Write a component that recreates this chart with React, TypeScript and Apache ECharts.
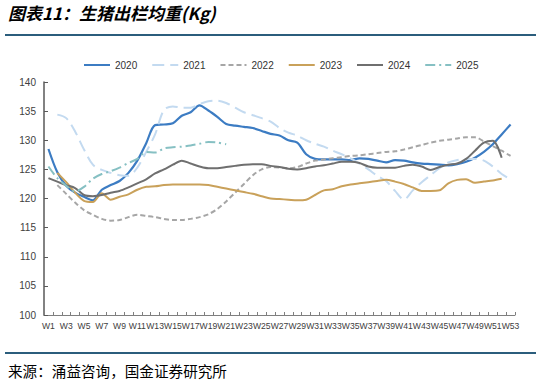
import React, { useEffect, useRef } from "react";
import * as echarts from "echarts";

const weeks = [
  "W1", "W2", "W3", "W4", "W5", "W6", "W7", "W8", "W9", "W10",
  "W11", "W12", "W13", "W14", "W15", "W16", "W17", "W18", "W19", "W20",
  "W21", "W22", "W23", "W24", "W25", "W26", "W27", "W28", "W29", "W30",
  "W31", "W32", "W33", "W34", "W35", "W36", "W37", "W38", "W39", "W40",
  "W41", "W42", "W43", "W44", "W45", "W46", "W47", "W48", "W49", "W50",
  "W51", "W52", "W53",
];

const s2020 = [
  128.5, 124.5, 122.2, 121.0, 120.3, 119.7, 121.5, 122.3, 123.0, 124.4,
  126.5, 129.5, 132.6, 132.7, 132.9, 134.2, 134.8, 136.0, 135.1, 134.0,
  132.8, 132.5, 132.3, 132.1, 131.6, 131.1, 130.8, 130.0, 129.6, 127.6,
  126.8, 126.7, 126.7, 126.7, 126.6, 126.9, 126.8, 126.5, 126.2, 126.6,
  126.5, 126.2, 126.0, 125.9, 125.8, 125.7, 125.9, 126.3, 127.0, 128.0,
  129.3, 131.0, 132.7,
];

const s2021 = [
  null, 134.4, 133.8, 131.5, 128.4, 125.8, 124.9, 124.4, 124.0, 123.9,
  125.3, 128.0, 131.0, 135.2, 135.8, 135.6, 135.6, 136.2, 136.7, 136.8,
  136.4, 135.6, 134.8, 134.3, 133.8, 133.2, 132.1, 131.3, 130.8, 130.0,
  129.4, 128.9, 128.2, 127.6, 126.9, 126.0, 125.0, 123.9, 123.0, 121.3,
  119.8, 121.4, 122.8, 124.0, 125.2, 126.2, 126.6, 126.8, 126.8, 126.5,
  125.5, 124.2, 123.3,
];

const s2022 = [
  null, 122.3, 120.8, 119.3, 118.0, 117.2, 116.5, 116.2, 116.3, 116.8,
  117.2, 117.0, 116.8, 116.5, 116.3, 116.3, 116.5, 116.8, 117.3, 118.2,
  119.5, 121.0, 122.5, 124.0, 125.0, 125.4, 125.3, 125.2, 125.4, 126.0,
  126.5, 126.7, 126.9, 127.1, 127.3, 127.4, 127.6, 127.8, 128.0, 128.1,
  128.4, 128.8, 129.2, 129.6, 129.9, 130.1, 130.3, 130.5, 130.5, 129.8,
  129.0, 128.2, 127.3,
];

const s2023 = [
  null, 124.4, 122.8, 121.0, 119.6, 119.4, 120.9, 119.8, 120.3, 120.7,
  121.5, 122.0, 122.1, 122.3, 122.4, 122.4, 122.4, 122.4, 122.3, 122.0,
  121.7, 121.4, 121.1, 120.8, 120.4, 120.0, 119.9, 119.8, 119.7, 119.8,
  120.6, 121.4, 121.6, 122.1, 122.4, 122.6, 122.8, 123.0, 123.2, 122.9,
  122.5, 121.9, 121.3, 121.3, 121.4, 122.6, 123.2, 123.3, 122.7, 122.9,
  123.1, 123.4, null,
];

const s2024 = [
  123.5, 122.9, 122.3, 121.8, 120.6, 120.4, 120.6, 121.0, 121.3, 121.9,
  122.6, 123.3, 124.3, 125.0, 125.8, 126.5, 126.0, 125.5, 125.2, 125.2,
  125.4, 125.6, 125.8, 125.9, 125.9, 125.6, 125.4, 125.1, 125.0, 125.2,
  125.5, 125.7, 126.0, 126.3, 126.3, 126.1, 125.5, 125.3, 125.3, 125.3,
  125.6, 125.8, 125.5, 124.9, 125.4, 125.8, 126.0, 126.8, 128.2, 129.6,
  129.9, 127.0, null,
];

const s2025 = [
  125.5, 123.5, 122.2, 121.2, 122.0, 123.4, 124.2, 124.7, 125.3, 126.1,
  126.8, 128.0, 127.9, 128.6, 128.8, 128.9, 129.1, 129.4, 129.7, 129.6,
  129.3,
];

const seriesNames = ["2020", "2021", "2022", "2023", "2024", "2025"];
const yMin = 100;
const yMax = 140;
const yStep = 5;

const titleText = "图表11：生猪出栏均重(Kg)";
const sourceText = "来源：涌益咨询，国金证券研究所";

export default function App() {
  const ref = useRef<HTMLDivElement>(null);

  useEffect(() => {
    if (!ref.current) return;
    const chart = echarts.init(ref.current, null, { renderer: "svg" });

    const mk = (name: string, data: (number | null)[], color: string, type: any, width: number) => ({
      name,
      type: "line",
      data,
      symbol: "none",
      smooth: 0.3,
      connectNulls: false,
      lineStyle: { color, width, type },
      itemStyle: { color },
    });

    chart.setOption({
      animation: false,
      backgroundColor: "#ffffff",
      textStyle: { fontFamily: "Liberation Sans, Arial, sans-serif" },
      legend: {
        data: seriesNames,
        top: 55,
        left: 78,
        itemWidth: 26,
        itemHeight: 10,
        itemGap: 14,
        itemStyle: { opacity: 0 },
        textStyle: { fontSize: 10, color: "#333333", fontFamily: "Liberation Sans, Arial, sans-serif" },
      },
      grid: { left: 44, right: 26, top: 82, bottom: 70, containLabel: false },
      xAxis: {
        type: "category",
        data: weeks,
        boundaryGap: true,
        axisLine: { show: true, lineStyle: { color: "#7f7f7f", width: 1 } },
        axisTick: { show: true, inside: true, length: 3, interval: 0, lineStyle: { color: "#7f7f7f" } },
        axisLabel: { interval: 1, fontSize: 8.6, color: "#404040", margin: 6, fontFamily: "Liberation Sans, Arial, sans-serif" },
        splitLine: { show: false },
      },
      yAxis: {
        type: "value",
        min: yMin,
        max: yMax,
        interval: yStep,
        axisLine: { show: true, lineStyle: { color: "#595959", width: 1.5 } },
        axisTick: { show: true, inside: true, length: 4, lineStyle: { color: "#595959" } },
        axisLabel: { fontSize: 10, color: "#404040", margin: 8, fontFamily: "Liberation Sans, Arial, sans-serif" },
        splitLine: { show: false },
      },
      series: [
        mk(seriesNames[0], s2020, "#3c7cc3", "solid", 2.2),
        mk(seriesNames[1], s2021, "#c3daf0", [12, 6], 2),
        mk(seriesNames[2], s2022, "#a6a6a6", [5, 3], 2),
        mk(seriesNames[3], s2023, "#c9a15a", "solid", 2),
        mk(seriesNames[4], s2024, "#6f6f6f", "solid", 2),
        mk(seriesNames[5], s2025, "#86c0c3", [10, 4, 2, 4], 2),
      ],
      graphic: [
        {
          type: "text",
          left: 8,
          top: 4,
          style: {
            text: titleText,
            fontSize: 17,
            fontWeight: "bold",
            fontStyle: "italic",
            fill: "#000000",
            fontFamily: "Noto Sans CJK SC",
          },
        },
        {
          type: "line",
          shape: { x1: 5, y1: 35, x2: 536, y2: 35 },
          style: { stroke: "#2b5d7c", lineWidth: 2 },
        },
        {
          type: "line",
          shape: { x1: 5, y1: 353, x2: 536, y2: 353 },
          style: { stroke: "#2b5d7c", lineWidth: 2 },
        },
        {
          type: "text",
          left: 8,
          top: 363,
          style: {
            text: sourceText,
            fontSize: 14.6,
            fill: "#000000",
            fontFamily: "Noto Sans CJK SC",
          },
        },
      ],
    });

    return () => chart.dispose();
  }, []);

  return (
    <div
      ref={ref}
      style={{ position: "fixed", left: 0, top: 0, width: 541, height: 385 }}
    />
  );
}
